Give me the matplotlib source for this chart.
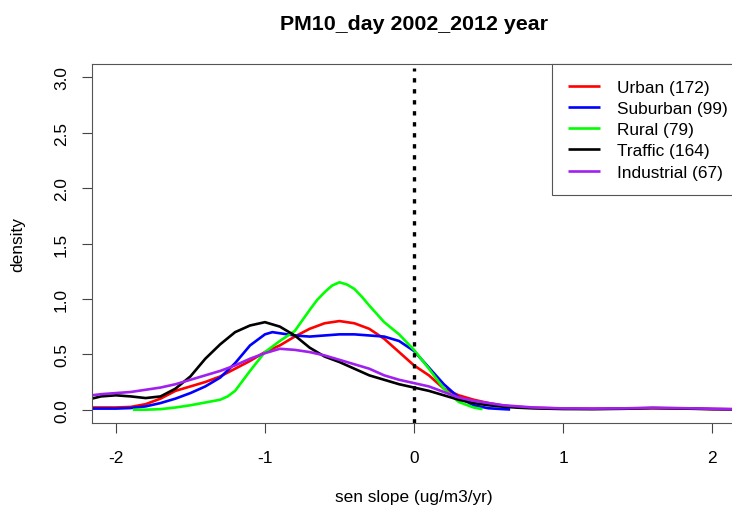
"""
PM10 日均值 2002-2012 Sen 斜率的密度曲线（按站点类型分组）。
"""

import matplotlib
matplotlib.use("Agg")
import matplotlib.pyplot as plt

plt.rcParams["font.family"] = ["Liberation Sans", "DejaVu Sans"]

# 读图估计的密度曲线取值
x_main = [-2.16, -2.1, -2.0, -1.9, -1.8, -1.7, -1.6, -1.5, -1.4, -1.3, -1.2, -1.1,
          -1.0, -0.9, -0.8, -0.7, -0.6, -0.5, -0.4, -0.3, -0.2, -0.1, 0.0, 0.1,
          0.2, 0.3, 0.4, 0.5, 0.6, 0.7, 0.8, 1.0, 1.2, 1.4, 1.6, 1.8, 2.0, 2.16]

urban = [0.02, 0.02, 0.02, 0.025, 0.05, 0.10, 0.17, 0.21, 0.25, 0.30, 0.37, 0.44,
         0.52, 0.58, 0.66, 0.73, 0.78, 0.80, 0.78, 0.73, 0.64, 0.52, 0.40, 0.31,
         0.19, 0.13, 0.09, 0.06, 0.036, 0.025, 0.018, 0.010, 0.008, 0.010, 0.015, 0.012, 0.006, 0.004]

traffic = [0.10, 0.12, 0.13, 0.12, 0.105, 0.12, 0.19, 0.30, 0.46, 0.59, 0.70, 0.76,
           0.79, 0.75, 0.67, 0.56, 0.48, 0.43, 0.37, 0.31, 0.27, 0.23, 0.20, 0.17,
           0.13, 0.09, 0.06, 0.04, 0.027, 0.018, 0.012, 0.006, 0.005, 0.008, 0.014, 0.010, 0.005, 0.003]

industrial = [0.13, 0.14, 0.15, 0.16, 0.18, 0.20, 0.23, 0.27, 0.31, 0.35, 0.40, 0.46,
              0.51, 0.55, 0.54, 0.52, 0.49, 0.45, 0.41, 0.37, 0.31, 0.27, 0.24, 0.21,
              0.16, 0.11, 0.08, 0.06, 0.04, 0.03, 0.02, 0.012, 0.010, 0.012, 0.018, 0.014, 0.008, 0.005]

x_suburban = [-2.16, -2.1, -2.0, -1.9, -1.8, -1.7, -1.6, -1.5, -1.4, -1.3, -1.2, -1.1,
              -1.0, -0.95, -0.9, -0.8, -0.7, -0.6, -0.5, -0.4, -0.3, -0.2, -0.1, 0.0,
              0.1, 0.2, 0.3, 0.4, 0.5, 0.6, 0.645]
suburban = [0.01, 0.01, 0.01, 0.015, 0.03, 0.06, 0.10, 0.15, 0.21, 0.29, 0.42, 0.58,
            0.68, 0.70, 0.69, 0.67, 0.66, 0.67, 0.68, 0.68, 0.67, 0.66, 0.62, 0.53,
            0.38, 0.23, 0.11, 0.04, 0.013, 0.005, 0.002]

x_rural = [-1.886, -1.8, -1.7, -1.6, -1.5, -1.4, -1.3, -1.25, -1.2, -1.1, -1.0, -0.9,
           -0.8, -0.7, -0.65, -0.6, -0.55, -0.5, -0.45, -0.4, -0.35, -0.3, -0.2, -0.1,
           0.0, 0.1, 0.2, 0.3, 0.4, 0.46]
rural = [0.0, 0.0, 0.005, 0.02, 0.04, 0.065, 0.09, 0.12, 0.17, 0.35, 0.52, 0.62,
         0.71, 0.90, 0.99, 1.06, 1.12, 1.15, 1.13, 1.09, 1.02, 0.94, 0.79, 0.68,
         0.54, 0.37, 0.19, 0.07, 0.02, 0.005]

labels = ["Urban (172)", "Suburban (99)", "Rural (79)", "Traffic (164)", "Industrial (67)"]
colors = ["#FF0000", "#0000FF", "#00FF00", "#000000", "#A020F0"]

x_ticks = [-2, -1, 0, 1, 2]
y_ticks = [0.0, 0.5, 1.0, 1.5, 2.0, 2.5, 3.0]


def main():
    fig = plt.figure(figsize=(7.32, 5.06), dpi=100)
    ax = fig.add_axes([92 / 732, 82 / 506, 644 / 732, 359 / 506])

    series = [(x_main, urban), (x_suburban, suburban), (x_rural, rural),
              (x_main, traffic), (x_main, industrial)]
    for (xs, ys), lab, col in zip(series, labels, colors):
        ax.plot(xs, ys, color=col, linewidth=1.9, label=lab,
                solid_joinstyle="round", solid_capstyle="butt")

    ax.axvline(0, ymax=0.99, color="black", linewidth=2.4, linestyle=(0, (1.3, 2.0)))

    ax.set_xlim(-2.16, 2.16)
    ax.set_ylim(-0.12, 3.12)
    ax.set_xticks(x_ticks)
    ax.set_xticklabels([str(t) for t in x_ticks])
    ax.set_yticks(y_ticks)
    ax.set_yticklabels([f"{t:.1f}" for t in y_ticks])
    ax.tick_params(length=7.5, width=0.8, labelsize=12.4, color="#444444")
    ax.tick_params(axis="x", pad=12)
    ax.tick_params(axis="y", pad=9)
    plt.setp(ax.get_yticklabels(), rotation=90, va="center")
    for s in ax.spines.values():
        s.set_linewidth(0.8)
        s.set_color("#555555")

    ax.set_title("PM10_day 2002_2012 year", fontsize=15.4, fontweight="bold",
                 y=1.0, pad=25)
    ax.set_xlabel("sen slope (ug/m3/yr)", fontsize=12.4)
    ax.xaxis.set_label_coords(0.5, -0.206)
    ax.xaxis.label.set_va("center")
    ax.set_ylabel("density", fontsize=12.4)
    ax.yaxis.set_label_coords(-0.115, 0.5)
    ax.yaxis.label.set_va("center")

    # R 的图例右侧留白较少，这里整体右移一点
    leg = ax.legend(loc="upper right", bbox_to_anchor=(1.011, 1.0), borderaxespad=0,
                    fontsize=12.4, handlelength=1.9, handletextpad=0.95,
                    borderpad=0.9, labelspacing=0.36, fancybox=False,
                    framealpha=1, edgecolor="#555555")
    leg.get_frame().set_linewidth(0.8)
    for ln in leg.get_lines():
        ln.set_linewidth(1.9)

    fig.savefig("out.png", dpi=100)


if __name__ == "__main__":
    main()
